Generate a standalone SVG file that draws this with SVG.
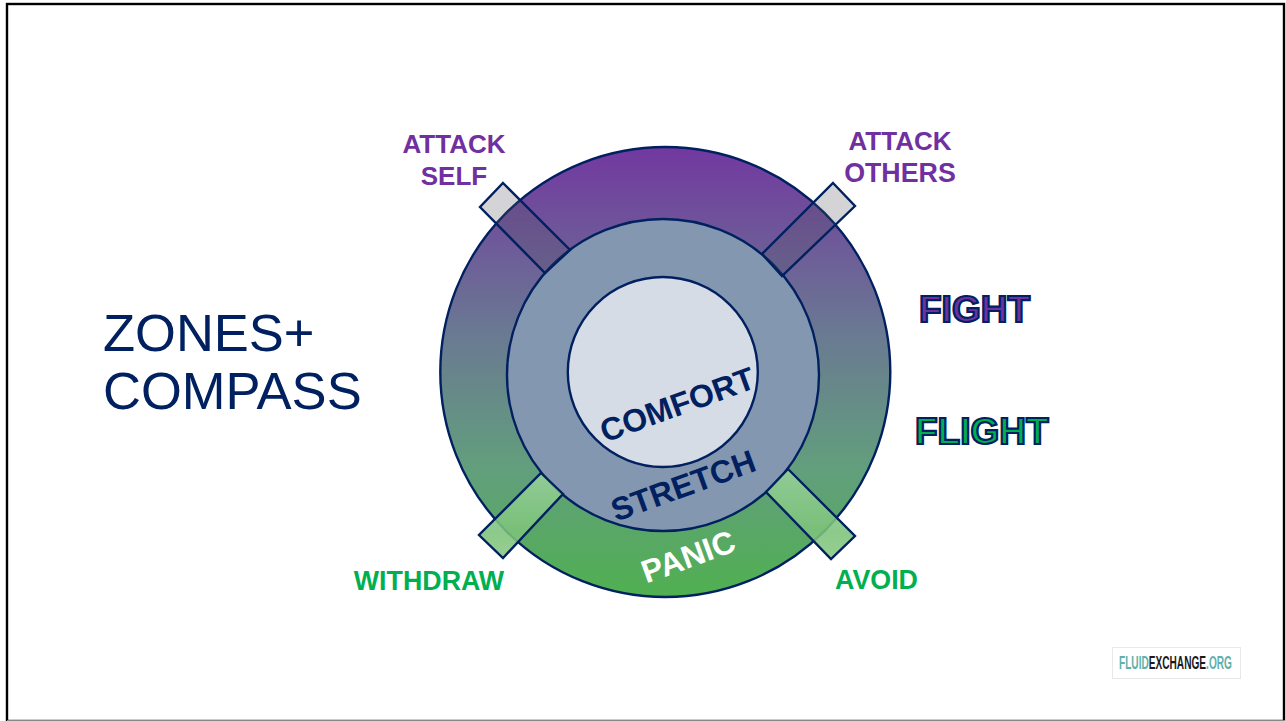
<svg xmlns="http://www.w3.org/2000/svg" width="1286" height="721" viewBox="0 0 1286 721">
<style>
text{font-family:"Liberation Sans",Arial,sans-serif}
.b{font-weight:700;text-anchor:middle}
.p{fill:#7030a0;font-size:26px}
.w{font-size:26.800px}
.g{fill:#00b050;font-size:26.800px}
.tbar{fill:#555560;fill-opacity:.25;stroke:#002060;stroke-width:2.4;stroke-linejoin:miter}
.bbar{fill:url(#bar);fill-opacity:.88;stroke:#002060;stroke-width:2.4;stroke-linejoin:miter}
.out{font-weight:700;font-size:37px;stroke:#002060;stroke-width:2.200}
.logo{font-size:18px;font-weight:700}
</style>
<defs>
<linearGradient id="ring" x1="0" y1="0" x2="0" y2="1">
<stop offset="0" stop-color="#7238a0"/>
<stop offset=".42" stop-color="#6a7a92"/>
<stop offset=".72" stop-color="#629f7c"/>
<stop offset="1" stop-color="#50b050"/>
</linearGradient>
<linearGradient id="bar" x1="0" y1="0" x2="0" y2="1">
<stop offset="0" stop-color="#98d29a"/>
<stop offset=".7" stop-color="#7cc27a"/>
<stop offset="1" stop-color="#88c980"/>
</linearGradient>
</defs>
<rect width="1286" height="721" fill="#fff"/>
<g id="frame"><rect x="7" y="4" width="1277" height="717" fill="none" stroke="#000" stroke-width="2.4"/><line x1="7" y1="720.500" x2="1285" y2="720.500" stroke="#888" stroke-width="1"/></g>
<g id="title" fill="#002060" font-size="52.500px"><text x="103" y="351">ZONES+</text><text x="103" y="409">COMPASS</text></g>
<g id="panic-zone"><circle cx="665.300" cy="372" r="225" fill="url(#ring)" stroke="#002060" stroke-width="2.400"/></g>
<g id="stretch-zone"><circle cx="663" cy="375" r="156" fill="#8497b0" stroke="#002060" stroke-width="2.400"/></g>
<g id="comfort-zone"><circle cx="662.800" cy="372" r="95" fill="#d6dce5" stroke="#002060" stroke-width="2.400"/></g>
<g id="connectors">
<polygon class="tbar" points="503,183 570,250 545,273 480,207"/>
<polygon class="tbar" points="833,183 855,206 782,276 762,254"/>
<polygon class="bbar" points="788,469 855,536 831,559 766,492"/>
<polygon class="bbar" points="541,473 563,494 503,558 479,535"/>
</g>
<g id="label-comfort"><text class="b" font-size="32px" fill="#002060" transform="translate(681,415) rotate(-20)">COMFORT</text></g>
<g id="label-stretch"><text class="b" font-size="32px" fill="#002060" transform="translate(687,496) rotate(-20)">STRETCH</text></g>
<g id="label-panic"><text class="b" font-size="32px" fill="#fff" transform="translate(692,567) rotate(-20)">PANIC</text></g>
<g id="attack-self"><text class="b p" x="454" y="153">ATTACK</text><text class="b p" x="454" y="185">SELF</text></g>
<g id="attack-others"><text class="b p" x="900" y="150">ATTACK</text><text class="b p w" x="900" y="182">OTHERS</text></g>
<g id="withdraw"><text class="b g" x="429" y="590">WITHDRAW</text></g>
<g id="avoid"><text class="b g" x="876.500" y="589">AVOID</text></g>
<g id="fight"><text class="out" x="919" y="322" fill="#7030a0">FIGHT</text></g>
<g id="flight"><text class="out" x="915" y="444" fill="#00b050">FLIGHT</text></g>
<g id="logo"><rect x="1112.500" y="647.500" width="128" height="31" fill="#fff" stroke="#e8e8e8"/>
<text class="logo" fill="#5fb0ac" transform="translate(1119,669) scale(.562,1)">FLUID<tspan fill="#1a1a1a">EXCHANGE</tspan>.ORG</text></g>
</svg>
